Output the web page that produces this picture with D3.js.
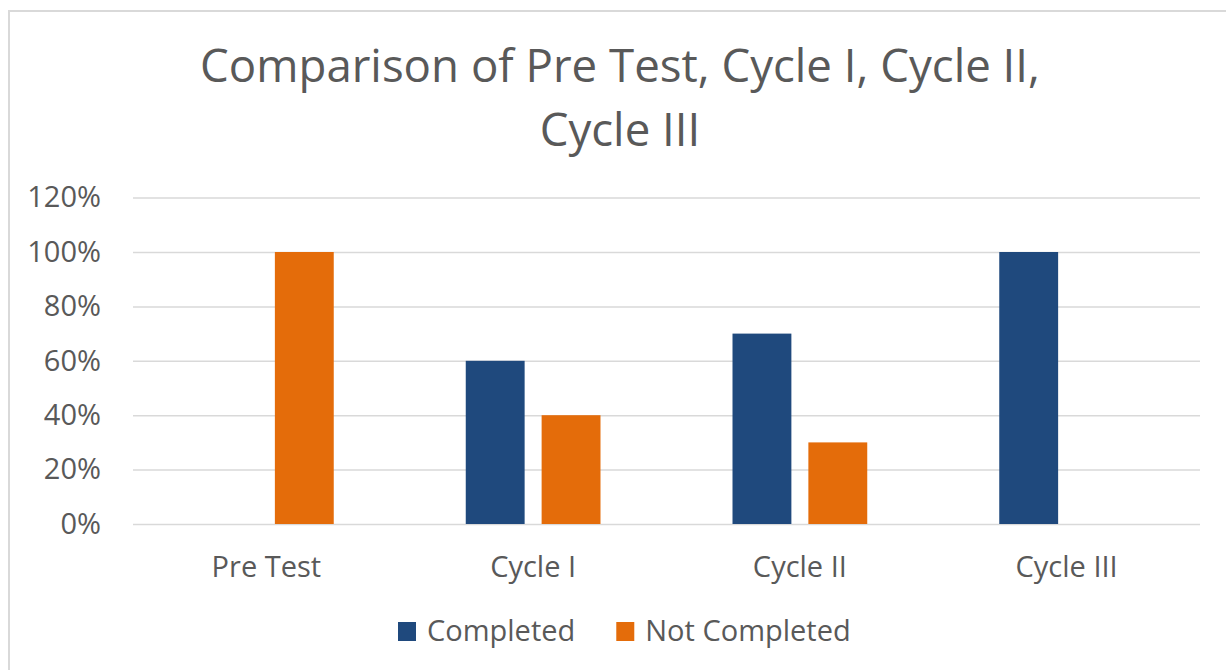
<!DOCTYPE html>
<html>
<head>
<meta charset="utf-8">
<script src="https://cdn.jsdelivr.net/npm/d3@7"></script>
<style>
  html, body { margin: 0; padding: 0; background: #fff; }
  svg { display: block; font-family: "Open Sans", sans-serif; }
</style>
</head>
<body>
<div id="chart"></div>
<script>
const categories = ['Pre Test', 'Cycle I', 'Cycle II', 'Cycle III'];
const seriesNames = ['Completed', 'Not Completed'];
const completed = [0, 0.6, 0.7, 1.0];
const notCompleted = [1.0, 0.4, 0.3, 0];
const yTicks = [0, 0.2, 0.4, 0.6, 0.8, 1.0, 1.2];
const titleLines = ['Comparison of Pre Test, Cycle I, Cycle II,', 'Cycle III'];

const colors = ['#1f497d', '#e46c0a'];
const textColor = '#595959';
const gridColor = '#d9d9d9';
const labelSize = 29;

const width = 1226;
const height = 670;
const plot = { left: 133, right: 1200, top: 197.6, bottom: 524 };

const svg = d3.select('#chart')
    .append('svg')
    .attr('width', width)
    .attr('height', height);

// outer chart border (right/bottom edges are cut off in the original)
svg.append('rect')
    .attr('x', 9)
    .attr('y', 11)
    .attr('width', 1400)
    .attr('height', 900)
    .attr('fill', 'none')
    .attr('stroke', gridColor)
    .attr('stroke-width', 2);

// title
const title = svg.append('g').attr('fill', textColor);
title.selectAll('text')
    .data(titleLines)
    .enter()
    .append('text')
    .attr('x', 620)
    .attr('y', (d, i) => 82 + i * 64)
    .attr('text-anchor', 'middle')
    .attr('font-size', 46)
    .text(d => d);

// fit first title line to the width seen in the reference
const first = title.select('text').node();
const fitSize = 46 * 840 / first.getComputedTextLength();
title.selectAll('text').attr('font-size', fitSize);

const x0 = d3.scaleBand()
    .domain(categories)
    .range([plot.left, plot.right])
    .padding(0);

const x1 = d3.scaleBand()
    .domain(seriesNames)
    .range([0, x0.bandwidth()])
    .paddingInner(0.224)
    .paddingOuter(0.87);

const y = d3.scaleLinear()
    .domain([0, 1.2])
    .range([plot.bottom, plot.top]);

// gridlines + y labels
const yAxis = d3.axisLeft(y)
    .tickValues(yTicks)
    .tickSize(-(plot.right - plot.left))
    .tickPadding(32)
    .tickFormat(d3.format('.0%'));

const gy = svg.append('g')
    .attr('transform', `translate(${plot.left},0)`)
    .call(yAxis);
gy.select('.domain').remove();
gy.selectAll('.tick line')
    .attr('stroke', gridColor)
    .attr('stroke-width', 1.5);
gy.selectAll('.tick text')
    .attr('fill', textColor)
    .attr('font-size', labelSize)
    .attr('font-family', '"Open Sans", sans-serif');

// bars
const rows = categories.map((c, i) => ({ cat: c, values: [completed[i], notCompleted[i]] }));

const groups = svg.append('g')
    .selectAll('g')
    .data(rows)
    .enter()
    .append('g')
    .attr('transform', d => `translate(${x0(d.cat)},0)`);

groups.selectAll('rect')
    .data(d => d.values.map((v, j) => ({ name: seriesNames[j], value: v, j })))
    .enter()
    .filter(d => d.value > 0)
    .append('rect')
    .attr('x', d => x1(d.name))
    .attr('y', d => y(d.value))
    .attr('width', x1.bandwidth())
    .attr('height', d => y(0) - y(d.value))
    .attr('fill', d => colors[d.j]);

// x labels
svg.append('g')
    .selectAll('text')
    .data(categories)
    .enter()
    .append('text')
    .attr('x', d => x0(d) + x0.bandwidth() / 2)
    .attr('y', 577)
    .attr('text-anchor', 'middle')
    .attr('font-size', labelSize)
    .attr('fill', textColor)
    .text(d => d);

// legend
const legend = svg.append('g');
let lx = 398;
seriesNames.forEach((name, i) => {
    legend.append('rect')
        .attr('x', lx)
        .attr('y', 622)
        .attr('width', 18)
        .attr('height', 19)
        .attr('fill', colors[i]);
    const t = legend.append('text')
        .attr('x', lx + 29)
        .attr('y', 641)
        .attr('font-size', labelSize)
        .attr('fill', textColor)
        .text(name);
    lx += 29 + t.node().getComputedTextLength() + 41;
});
</script>
</body>
</html>
